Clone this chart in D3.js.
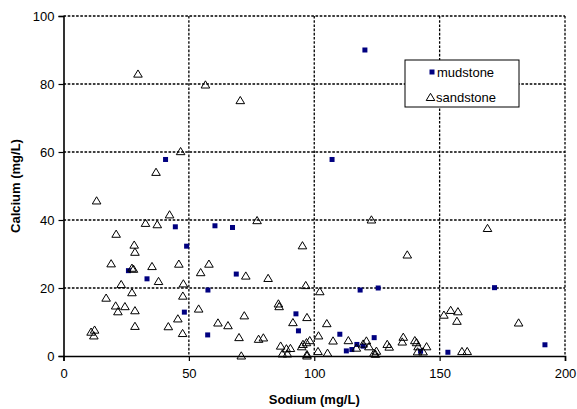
<!DOCTYPE html>
<html>
<head>
<meta charset="utf-8">
<script src="https://cdn.jsdelivr.net/npm/d3@7"></script>
<style>
  html, body { margin: 0; padding: 0; background: #fff; }
  svg { display: block; font-family: "Liberation Sans", Arial, sans-serif; }
</style>
</head>
<body>
<svg id="chart" width="577" height="409"></svg>
<script>
// Sodium vs calcium concentrations (mg/L) for two rock types
const mudstoneSodium = [120.2, 40.7, 107.1, 44.6, 60.4, 67.4, 49.1, 25.9, 68.9, 33.3, 57.6, 118.3, 125.5, 171.9,
  48.2, 92.7, 57.5, 93.7, 110.2, 112.8, 115.0, 117.0, 119.5, 123.9, 142.4, 153.3, 192.0];
const mudstoneCalcium = [90.0, 57.8, 57.8, 38.0, 38.3, 37.8, 32.3, 25.1, 24.1, 22.7, 19.4, 19.4, 20.0, 20.1,
  12.9, 12.4, 6.2, 7.4, 6.4, 1.5, 1.9, 3.4, 2.9, 5.4, 1.4, 1.1, 3.3];

const sandstoneSodium = [29.7, 56.6, 70.5, 46.7, 36.9, 13.2, 42.3, 32.7, 37.4, 21.0, 28.2, 28.5, 77.2, 122.8, 95.3,
  169.1, 137.1, 19.0, 27.9, 27.3, 35.3, 46.0, 58.0, 54.7, 37.9, 23.0, 47.8, 27.3, 17.0, 47.6, 20.8, 24.5, 21.7,
  28.5, 53.9, 45.6, 41.8, 28.5, 47.5, 61.6, 65.6, 11.0, 12.4, 12.1, 72.7, 81.6, 96.6, 102.2, 85.7, 86.0, 72.1,
  97.1, 91.5, 105.0, 70.0, 77.8, 79.7, 70.9, 86.6, 88.9, 90.5, 87.3, 89.3, 95.5, 96.9, 98.2, 95.0, 97.1, 97.1,
  101.7, 101.5, 105.3, 107.5, 113.6, 116.8, 120.8, 121.8, 119.5, 123.8, 124.8, 124.4, 129.1, 129.9, 151.7, 154.4,
  157.3, 156.9, 181.5, 158.9, 161.0, 135.5, 135.1, 140.1, 140.8, 144.8, 141.4, 141.2, 143.4];
const sandstoneCalcium = [82.9, 79.7, 75.1, 60.1, 54.0, 45.6, 41.5, 39.0, 38.6, 35.8, 32.6, 30.5, 39.8, 40.0, 32.4,
  37.5, 29.7, 27.1, 25.5, 25.8, 26.3, 27.0, 27.0, 24.5, 21.9, 21.0, 21.2, 18.6, 17.0, 17.6, 14.7, 14.5, 13.0,
  13.3, 13.8, 10.9, 8.6, 8.7, 6.6, 9.7, 8.9, 7.0, 7.6, 5.9, 23.5, 22.8, 20.7, 18.9, 15.3, 14.5, 11.8,
  11.3, 9.8, 9.5, 5.4, 4.9, 5.3, 0.0, 2.9, 2.1, 2.2, 0.6, 0.6, 3.4, 3.9, 4.5, 2.7, 0.4, 0.0,
  5.9, 1.3, 0.8, 4.4, 4.5, 2.3, 4.4, 2.7, 3.5, 0.8, 1.4, 0.5, 3.4, 2.6, 12.0, 13.4,
  13.0, 10.2, 9.7, 1.3, 1.3, 5.5, 4.1, 4.5, 3.9, 2.7, 2.7, 1.2, 1.2];

const xTicks = [0, 50, 100, 150, 200];
const yTicks = [0, 20, 40, 60, 80, 100];
const seriesNames = ["mudstone", "sandstone"];
const xTitle = "Sodium (mg/L)";
const yTitle = "Calcium (mg/L)";

const plotLeft = 63.5, plotRight = 565, plotTop = 16, plotBottom = 356;
const svg = d3.select("#chart");
const x = d3.scaleLinear().domain([0, 200]).range([plotLeft, plotRight]);
const y = d3.scaleLinear().domain([0, 100]).range([plotBottom, plotTop]);

// dotted gridlines
const grid = svg.append("g").attr("stroke", "#000").attr("stroke-width", 1.3)
  .attr("stroke-dasharray", "2.6,1.6").attr("fill", "none");
yTicks.filter(t => t > 0).forEach(t => {
  grid.append("line").attr("x1", plotLeft).attr("x2", plotRight).attr("y1", y(t)).attr("y2", y(t));
});
xTicks.filter(t => t > 0).forEach(t => {
  grid.append("line").attr("x1", x(t)).attr("x2", x(t)).attr("y1", plotTop).attr("y2", plotBottom);
});

// axes
const xAxis = d3.axisBottom(x).tickValues(xTicks).tickSize(5).tickPadding(8);
const yAxis = d3.axisLeft(y).tickValues(yTicks).tickSize(5).tickPadding(4);
const gx = svg.append("g").attr("transform", `translate(0,${plotBottom})`).call(xAxis);
const gy = svg.append("g").attr("transform", `translate(${plotLeft},0)`).call(yAxis);
[gx, gy].forEach(g => {
  g.select(".domain").attr("stroke", "#000").attr("stroke-width", 1.6);
  g.selectAll(".tick line").attr("stroke", "#000").attr("stroke-width", 1.2);
  g.selectAll(".tick text").attr("fill", "#000").style("font-size", "13px")
    .style("font-family", '"Liberation Sans", Arial, sans-serif');
});

// markers
const triPath = "M0,-4.2L4.3,3L-4.3,3Z";
svg.append("g").selectAll("rect").data(d3.range(mudstoneSodium.length)).join("rect")
  .attr("x", i => x(mudstoneSodium[i]) - 2.5).attr("y", i => y(mudstoneCalcium[i]) - 2.5)
  .attr("width", 5).attr("height", 5).attr("fill", "#000080");
svg.append("g").selectAll("path").data(d3.range(sandstoneSodium.length)).join("path")
  .attr("transform", i => `translate(${x(sandstoneSodium[i])},${y(sandstoneCalcium[i])})`)
  .attr("d", triPath).attr("fill", "none").attr("stroke", "#000").attr("stroke-width", 1);

// axis titles
svg.append("text").attr("x", (plotLeft + plotRight) / 2).attr("y", 404).attr("text-anchor", "middle")
  .style("font-size", "13px").style("font-weight", "bold").text(xTitle);
svg.append("text").attr("transform", `translate(20,${(plotTop + plotBottom) / 2}) rotate(-90)`)
  .attr("text-anchor", "middle").style("font-size", "13px").style("font-weight", "bold").text(yTitle);

// legend
const lg = svg.append("g");
lg.append("rect").attr("x", 405).attr("y", 60).attr("width", 114).attr("height", 47)
  .attr("fill", "#fff").attr("stroke", "#000").attr("stroke-width", 1);
lg.append("rect").attr("x", 429.5).attr("y", 69.5).attr("width", 5).attr("height", 5).attr("fill", "#000080");
lg.append("path").attr("transform", "translate(430.5,97.5)").attr("d", triPath)
  .attr("fill", "none").attr("stroke", "#000").attr("stroke-width", 1);
lg.append("text").attr("x", 437).attr("y", 76.5).style("font-size", "13px").text(seriesNames[0]);
lg.append("text").attr("x", 436).attr("y", 101.5).style("font-size", "13px").text(seriesNames[1]);
</script>
</body>
</html>
